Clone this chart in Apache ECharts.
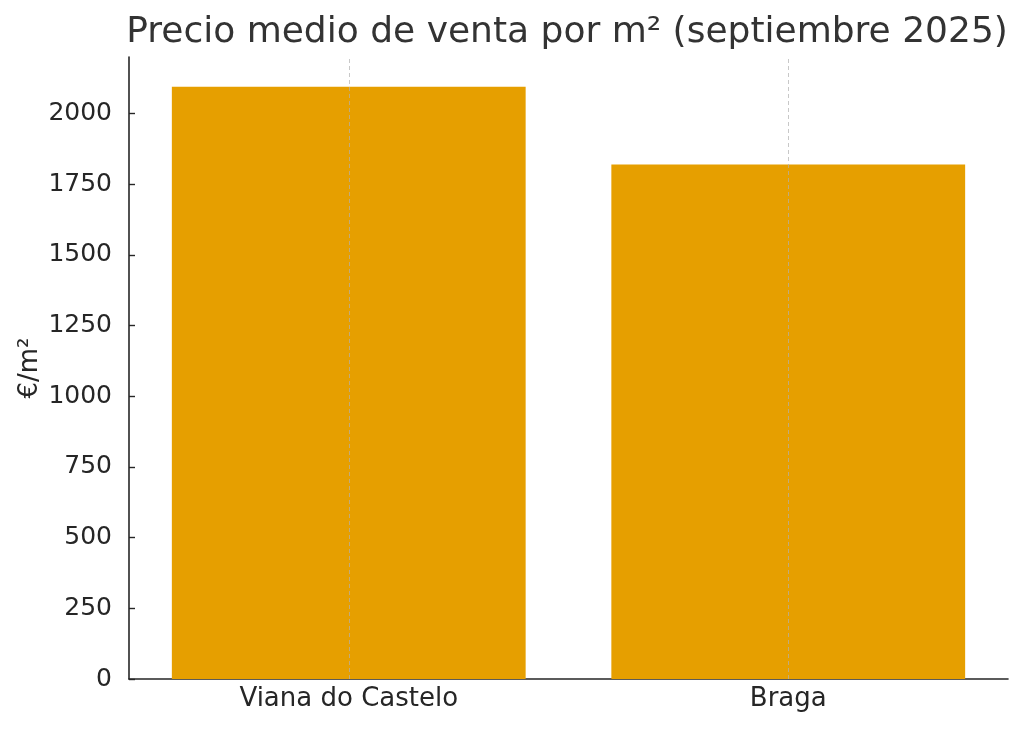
<!DOCTYPE html>
<html><head><meta charset="utf-8">
<script src="https://cdn.jsdelivr.net/npm/echarts@6/dist/echarts.min.js"></script>
<style>html,body{margin:0;padding:0;background:#fff}#c{width:1024px;height:730px}</style>
</head><body><div id="c"></div>
<script>
const titleText = 'Precio medio de venta por m² (septiembre 2025)';
const categories = ['Viana do Castelo', 'Braga'];
const values = [2095, 1820];
const yTicks = [0, 250, 500, 750, 1000, 1250, 1500, 1750, 2000];
const yName = '€/m²';

const font = 'DejaVu Sans';
const chart = echarts.init(document.getElementById('c'), null, {renderer: 'canvas'});
chart.setOption({
  animation: false,
  backgroundColor: '#ffffff',
  title: {
    text: titleText, left: 562, top: 10, textAlign: 'center',
    textStyle: {fontFamily: font, fontSize: 36, fontWeight: 'normal', color: '#333333'}
  },
  grid: {left: 129, right: 16, top: 57, bottom: 51, containLabel: false},
  xAxis: {
    type: 'category', data: categories, boundaryGap: true,
    axisLine: {lineStyle: {color: '#262626', width: 1.6}},
    axisTick: {show: true, alignWithLabel: true, inside: true, length: 6, lineStyle: {color: '#262626', width: 1.4}},
    axisLabel: {fontFamily: font, fontSize: 26, color: '#262626', margin: 7},
    splitLine: {show: false}
  },
  yAxis: {
    type: 'value', min: 0, max: 2200, interval: 250,
    name: yName, nameLocation: 'middle', nameGap: 86, nameRotate: 90, nameMoveOverlap: false,
    nameTextStyle: {fontFamily: font, fontSize: 26, color: '#262626'},
    axisLine: {show: true, lineStyle: {color: '#262626', width: 1.6}},
    axisTick: {show: true, inside: true, length: 6, lineStyle: {color: '#262626', width: 1.4}},
    axisLabel: {fontFamily: font, fontSize: 25, color: '#262626', margin: 17, showMaxLabel: false,
      formatter: function (v) { return yTicks.indexOf(v) >= 0 ? String(v) : ''; }},
    splitLine: {show: false}
  },
  series: [{
    type: 'bar', data: values, barWidth: '80.5%',
    itemStyle: {color: '#E69F00'},
    markLine: {
      silent: true, symbol: ['none', 'none'], label: {show: false},
      lineStyle: {type: [4, 3], color: '#b0b0b0', width: 1, opacity: 0.7},
      data: categories.map(c => ({xAxis: c}))
    }
  }]
});
</script></body></html>
